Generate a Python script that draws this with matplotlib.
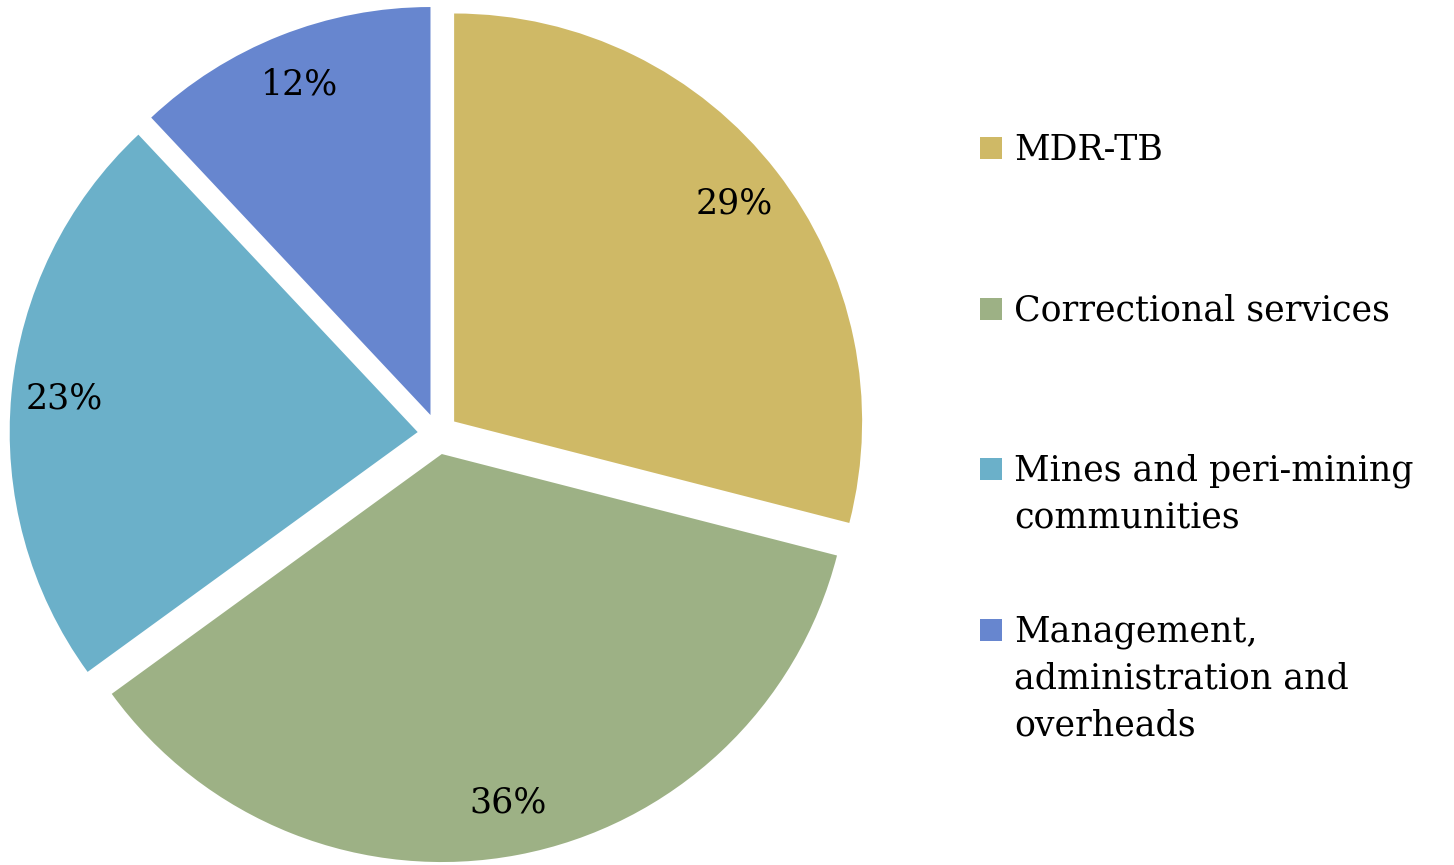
import numpy as np
import matplotlib.pyplot as plt
from matplotlib.patches import Rectangle

# TB spending split
labels = ['MDR-TB', 'Correctional services',
          'Mines and peri-mining\ncommunities',
          'Management,\nadministration and\noverheads']
values = [29, 36, 23, 12]
colors = ['#CFB966', '#9DB185', '#6BB0C9', '#6786CF']

plt.rcParams['font.family'] = ['DejaVu Serif']

W, H = 1454, 865
fig = plt.figure(figsize=(W / 100, H / 100), dpi=100)

# pie: centre about (438, 434) px, radius about 408 px
r_px = 408
lim = 1.06
side = 2 * lim * r_px
cx, cy = 438, H - 434
ax = fig.add_axes([(cx - side / 2) / W, (cy - side / 2) / H, side / W, side / H])

wedges, texts, autotexts = ax.pie(values, colors=colors, startangle=90, counterclock=False,
                                  explode=[0.05] * len(values), autopct='%1.0f%%',
                                  pctdistance=0.87, radius=1,
                                  textprops={'fontsize': 25, 'color': 'black'})
ax.set_xlim(-lim, lim)
ax.set_ylim(-lim, lim)
ax.set_aspect('equal')
ax.axis('off')

# legend drawn by hand so the square sits at the first line
for i, lab in enumerate(labels):
    base_y = 160 + 160.5 * i
    fig.patches.append(Rectangle((980 / W, 1 - (base_y - 1) / H), 22 / W, 22 / H,
                                 transform=fig.transFigure, facecolor=colors[i],
                                 edgecolor='none'))
    for j, line in enumerate(lab.split('\n')):
        fig.text(1014 / W, 1 - (base_y + 47 * j) / H, line, fontsize=25,
                 va='baseline', ha='left')

fig.savefig('out.png', dpi=100)
